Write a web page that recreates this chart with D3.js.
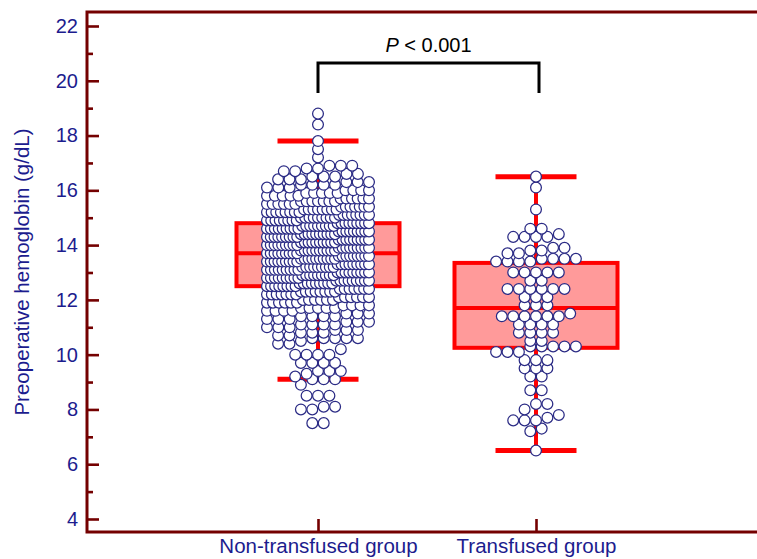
<!DOCTYPE html>
<html>
<head>
<meta charset="utf-8">
<script src="https://cdn.jsdelivr.net/npm/d3@7"></script>
<style>
  body { margin: 0; background: #ffffff; }
  svg { display: block; }
</style>
</head>
<body>
<svg id="chart" width="757" height="559"></svg>
<script>
// ---------------- DATA ----------------
const categories = ["Non-transfused group", "Transfused group"];

// Non-transfused group: hemoglobin level (g/dL) and number of patients at that level
const nonTransfusedHb = [
  7.5, 8.0, 8.1, 8.5, 8.9, 9.1, 9.2, 9.3, 9.4, 9.7, 10.0, 10.2, 10.4, 10.5, 10.6,
  10.7, 10.8, 10.9, 11.0, 11.1, 11.2, 11.3, 11.4, 11.5, 11.6, 11.7, 11.8,
  11.9, 12.0, 12.1, 12.2, 12.3, 12.4, 12.5, 12.6, 12.7, 12.8, 12.9, 13.0,
  13.1, 13.2, 13.3, 13.4, 13.5, 13.6, 13.7, 13.8, 13.9, 14.0, 14.1, 14.2,
  14.3, 14.4, 14.5, 14.6, 14.7, 14.8, 14.9, 15.0, 15.1, 15.2, 15.3, 15.4,
  15.5, 15.6, 15.7, 15.8, 15.9, 16.0, 16.1, 16.2, 16.3, 16.4, 16.5, 16.6,
  16.7, 16.8, 16.9, 17.2, 17.5, 17.8, 18.4, 18.8
];
const nonTransfusedCount = [
  2, 2, 2, 3, 1, 3, 1, 1, 3, 4, 4, 1, 2, 1, 5,
  2, 3, 3, 3, 4, 3, 3, 4, 3, 4, 5, 4,
  6, 6, 6, 7, 8, 7, 8, 9, 9, 9, 9, 9,
  9, 9, 9, 9, 10, 9, 9, 10, 9, 9, 10, 9,
  9, 10, 9, 9, 9, 9, 8, 9, 8, 8, 8, 7,
  6, 7, 6, 5, 5, 4, 3, 4, 3, 3, 3, 2,
  2, 2, 3, 1, 1, 1, 1, 1
];

// Transfused group
const transfusedHb = [
  6.5, 7.2, 7.3, 7.6, 7.7, 7.8, 8.0, 8.2, 8.7, 9.2,
  9.5, 9.8, 10.1, 10.3, 10.5, 10.8, 11.1, 11.4, 11.5, 11.8,
  12.1, 12.4, 12.7, 13.0, 13.4, 13.5, 13.7, 13.8, 13.9, 14.3,
  14.4, 14.6, 15.3, 16.1, 16.5
];
const transfusedCount = [
  1, 1, 1, 3, 1, 1, 1, 2, 2, 2,
  3, 3, 3, 5, 2, 4, 4, 6, 1, 3,
  3, 6, 2, 5, 4, 4, 2, 2, 2, 4,
  1, 2, 1, 1, 1
];

// Box-plot statistics as drawn
const boxQ1      = [12.5, 10.25];
const boxMedian  = [13.7, 11.7];
const boxQ3      = [14.8, 13.35];
const whiskerLow = [9.1, 6.5];
const whiskerHigh= [17.8, 16.5];

// Axis ticks
const yMajorTicks = [4, 6, 8, 10, 12, 14, 16, 18, 20, 22];
const yMinorTicks = [5, 7, 9, 11, 13, 15, 17, 19, 21];
const yTitle = "Preoperative hemoglobin (g/dL)";
const pItalic = "P";
const pRest = " < 0.001";

// ---------------- LAYOUT / STYLE ----------------
const plot = { left: 87, right: 775, top: 12, bottom: 532 };
const frameColor = "#740000";
const textColor = "#1c1c8e";
const fontFam = "Arial, 'Liberation Sans', Helvetica, sans-serif";
const dotR = 5.4, dotStep = 11.4, rowMaxSpan = 102, rowWindow = 0.25;
const boxW = 163, capW = 81;

const svg = d3.select("#chart");

const y = d3.scaleLinear().domain([3.525, 22.511]).range([plot.bottom, plot.top]);
const x = d3.scalePoint().domain(categories).range([318, 536]);

// ---------------- BOXES ----------------
const boxData = categories.map((c, i) => ({
  cat: c, q1: boxQ1[i], med: boxMedian[i], q3: boxQ3[i], lo: whiskerLow[i], hi: whiskerHigh[i]
}));

const gBox = svg.append("g");
gBox.selectAll("line.whisker").data(boxData).join("line")
  .attr("class", "whisker")
  .attr("x1", d => x(d.cat)).attr("x2", d => x(d.cat))
  .attr("y1", d => y(d.hi)).attr("y2", d => y(d.lo))
  .attr("stroke", "#ff0000").attr("stroke-width", 4);
gBox.selectAll("line.caphi").data(boxData).join("line")
  .attr("class", "caphi")
  .attr("x1", d => x(d.cat) - capW / 2).attr("x2", d => x(d.cat) + capW / 2)
  .attr("y1", d => y(d.hi)).attr("y2", d => y(d.hi))
  .attr("stroke", "#ff0000").attr("stroke-width", 5);
gBox.selectAll("line.caplo").data(boxData).join("line")
  .attr("class", "caplo")
  .attr("x1", d => x(d.cat) - capW / 2).attr("x2", d => x(d.cat) + capW / 2)
  .attr("y1", d => y(d.lo)).attr("y2", d => y(d.lo))
  .attr("stroke", "#ff0000").attr("stroke-width", 5);
gBox.selectAll("rect.box").data(boxData).join("rect")
  .attr("class", "box")
  .attr("x", d => x(d.cat) - boxW / 2).attr("width", boxW)
  .attr("y", d => y(d.q3)).attr("height", d => y(d.q1) - y(d.q3))
  .attr("fill", "#ff9a9a").attr("stroke", "#ff0000").attr("stroke-width", 4);
gBox.selectAll("line.median").data(boxData).join("line")
  .attr("class", "median")
  .attr("x1", d => x(d.cat) - boxW / 2).attr("x2", d => x(d.cat) + boxW / 2)
  .attr("y1", d => y(d.med)).attr("y2", d => y(d.med))
  .attr("stroke", "#ff0000").attr("stroke-width", 4);

// ---------------- DOTS (row-binned swarm) ----------------
function swarm(values, counts) {
  const pts = [];
  values.forEach((v, i) => { for (let k = 0; k < counts[i]; k++) pts.push(v); });
  pts.sort((a, b) => a - b);
  const out = [];
  let i = 0;
  while (i < pts.length) {
    const start = pts[i];
    const row = [];
    while (i < pts.length && pts[i] < start + rowWindow) { row.push(pts[i]); i++; }
    const n = row.length;
    const s = n > 1 ? Math.min(dotStep, rowMaxSpan / (n - 1)) : 0;
    row.forEach((v, j) => out.push({ v, dx: (j - (n - 1) / 2) * s }));
  }
  return out;
}

const groups = [
  { cat: categories[0], hb: nonTransfusedHb, n: nonTransfusedCount },
  { cat: categories[1], hb: transfusedHb, n: transfusedCount }
];
const dots = groups.flatMap(g => swarm(g.hb, g.n).map(p => ({ ...p, cat: g.cat })));

svg.append("g").selectAll("circle").data(dots).join("circle")
  .attr("cx", d => x(d.cat) + d.dx)
  .attr("cy", d => y(d.v))
  .attr("r", dotR)
  .attr("fill", "#ffffff")
  .attr("stroke", "#2b2b85")
  .attr("stroke-width", 1.25);

// ---------------- AXES ----------------
svg.append("g").attr("transform", `translate(${plot.left},0)`)
  .call(d3.axisRight(y).tickValues(yMajorTicks).tickSizeInner(12).tickSizeOuter(0).tickFormat(""))
  .call(g => g.select(".domain").remove())
  .call(g => g.selectAll("line").attr("stroke", frameColor).attr("stroke-width", 2.6));
svg.append("g").attr("transform", `translate(${plot.left},0)`)
  .call(d3.axisRight(y).tickValues(yMinorTicks).tickSizeInner(6).tickSizeOuter(0).tickFormat(""))
  .call(g => g.select(".domain").remove())
  .call(g => g.selectAll("line").attr("stroke", frameColor).attr("stroke-width", 2.6));
svg.append("g").attr("transform", `translate(${plot.left},0)`)
  .call(d3.axisLeft(y).tickValues(yMajorTicks).tickSize(0).tickPadding(9).tickFormat(d3.format("d")))
  .call(g => g.select(".domain").remove())
  .attr("font-size", 20).attr("font-family", fontFam)
  .call(g => g.selectAll("text").attr("fill", textColor));

svg.append("g").attr("transform", `translate(0,${plot.bottom})`)
  .call(d3.axisTop(x).tickSizeInner(13).tickSizeOuter(0).tickFormat(""))
  .call(g => g.select(".domain").remove())
  .call(g => g.selectAll("line").attr("stroke", frameColor).attr("stroke-width", 2.6));
svg.append("g").attr("transform", `translate(0,${plot.bottom})`)
  .call(d3.axisBottom(x).tickSize(0).tickPadding(6))
  .call(g => g.select(".domain").remove())
  .attr("font-size", 20.5).attr("font-family", fontFam)
  .call(g => g.selectAll("text").attr("fill", textColor));

svg.append("path")
  .attr("d", `M${plot.right},${plot.top}H${plot.left}V${plot.bottom}H${plot.right}`)
  .attr("fill", "none").attr("stroke", frameColor).attr("stroke-width", 3);

svg.append("text")
  .attr("transform", `translate(29,${(plot.top + plot.bottom) / 2}) rotate(-90)`)
  .attr("text-anchor", "middle")
  .attr("font-size", 20.5).attr("font-family", fontFam)
  .attr("fill", textColor)
  .text(yTitle);

// ---------------- SIGNIFICANCE BRACKET ----------------
const brTop = 20.65, brBot = 19.55;
const x0 = x(categories[0]), x1 = x(categories[1]) + 3;
svg.append("path")
  .attr("d", d3.line()([[x0, y(brBot)], [x0, y(brTop)], [x1, y(brTop)], [x1, y(brBot)]]))
  .attr("fill", "none").attr("stroke", "#000").attr("stroke-width", 3);

const pt = svg.append("text")
  .attr("x", (x0 + x1) / 2).attr("y", 52)
  .attr("text-anchor", "middle")
  .attr("font-size", 20).attr("font-family", fontFam)
  .attr("fill", "#000");
pt.append("tspan").attr("font-style", "italic").text(pItalic);
pt.append("tspan").text(pRest);
</script>
</body>
</html>
